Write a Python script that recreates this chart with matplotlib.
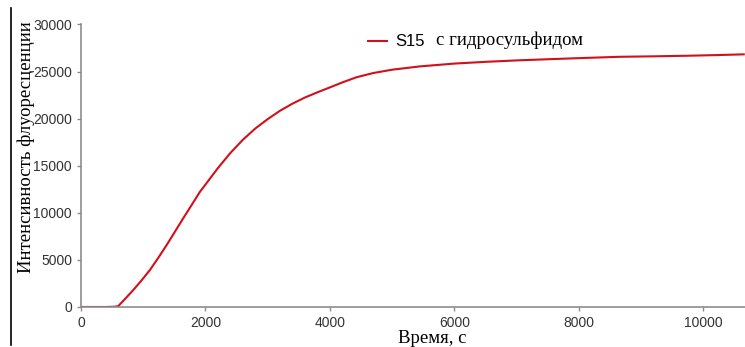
import matplotlib
matplotlib.use("Agg")
import matplotlib.pyplot as plt
from matplotlib.lines import Line2D

# time (s) and fluorescence intensity
time_s = [0, 200, 400, 550, 600, 700, 840, 970, 1108, 1240, 1377, 1510,
          1643, 1780, 1912, 2000, 2200, 2400, 2600, 2800, 3000, 3200,
          3400, 3600, 3800, 4000, 4200, 4428, 4700, 5000, 5446,
          6000, 6517, 7050, 7587, 8100, 8659, 9200, 9730, 10200, 10650]
intensity = [0, 0, 0, 30, 100, 800, 1800, 2800, 3930, 5200, 6580, 8000,
             9420, 10850, 12240, 13000, 14750, 16350, 17750, 18950, 19950, 20850,
             21600, 22250, 22800, 23320, 23850, 24400, 24850, 25200, 25550,
             25850, 26040, 26200, 26330, 26450, 26570, 26620, 26680, 26750, 26830]

x_ticks = [0, 2000, 4000, 6000, 8000, 10000]
y_ticks = [0, 5000, 10000, 15000, 20000, 25000, 30000]

series_name = "S15"
series_note = "с гидросульфидом"
x_label = "Время, с"
y_label = "Интенсивность флуоресценции"

fig = plt.figure(figsize=(7.45, 3.47), dpi=100)
ax = fig.add_axes([0.1087, 0.1153, 0.8913, 0.8141])

ax.plot(time_s, intensity, color="#d0101b", linewidth=1.5, label=series_name)

ax.set_xlim(0, 10670)
ax.set_ylim(0, 30000)
ax.set_xticks(x_ticks)
ax.set_yticks(y_ticks)

for side in ("top", "right"):
    ax.spines[side].set_visible(False)
for side in ("left", "bottom"):
    ax.spines[side].set_color("#8c8c8c")
    ax.spines[side].set_linewidth(1.2)
ax.tick_params(colors="#8c8c8c", length=3, width=1)
for lab in ax.get_xticklabels() + ax.get_yticklabels():
    lab.set_color("#333333")
    lab.set_fontfamily("Liberation Sans")
    lab.set_fontsize(10)

ax.set_xlabel(x_label, family="Liberation Serif", fontsize=13.5)
ax.set_ylabel(y_label, family="Liberation Serif", fontsize=13.5)
ax.xaxis.set_label_coords(0.529, -0.082)
ax.yaxis.set_label_coords(-0.069, 0.566)

leg = ax.legend(loc="upper left", bbox_to_anchor=(0.41, 1.018), frameon=False,
                handlelength=1.1, handletextpad=0.5,
                prop={"family": "Liberation Sans", "size": 12})
ax.text(0.535, 0.945, series_note, transform=ax.transAxes,
        family="Liberation Serif", fontsize=13.5, va="center", ha="left")

# page border line at the left edge of the scan
fig.add_artist(Line2D([0.0148, 0.0148], [0.006, 0.977], color="black", linewidth=1.2))

fig.savefig("out.png", dpi=100)
